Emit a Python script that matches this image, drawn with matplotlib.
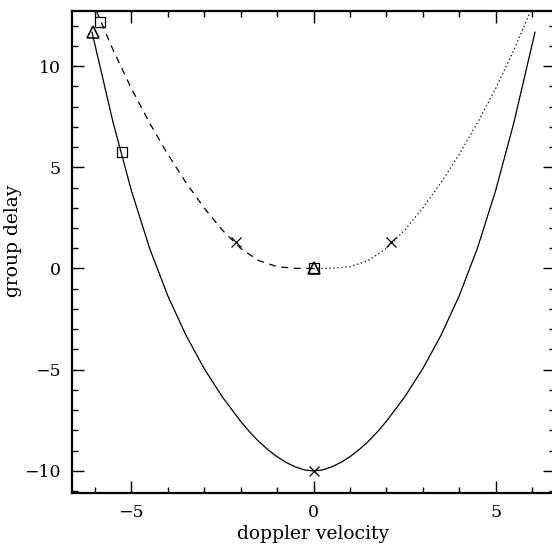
import matplotlib
matplotlib.use("Agg")
import matplotlib.pyplot as plt
from matplotlib.ticker import MultipleLocator

plt.rcParams['font.family'] = ['DejaVu Serif']

# solid curve (symmetric)
solid_x = [-6.08, -6.0, -5.5, -5.0, -4.5, -4.0, -3.5, -3.0, -2.5, -2.0, -1.75, -1.5, -1.25,
           -1.0, -0.75, -0.5, -0.25, 0.0,
           0.25, 0.5, 0.75, 1.0, 1.25, 1.5, 1.75, 2.0, 2.5, 3.0, 3.5, 4.0, 4.5, 5.0, 5.5, 6.0, 6.08]
solid_y = [11.67, 11.05, 7.2, 3.85, 1.0, -1.35, -3.3, -4.95, -6.35, -7.55, -8.08, -8.55, -8.95,
           -9.3, -9.58, -9.8, -9.95, -10.0,
           -9.95, -9.8, -9.58, -9.3, -8.95, -8.55, -8.08, -7.55, -6.35, -4.95, -3.3, -1.35, 1.0, 3.85, 7.2, 11.05, 11.67]

# dashed curve (left branch)
dash_x = [-5.96, -5.5, -5.0, -4.5, -4.0, -3.5, -3.0, -2.5, -2.0, -1.5, -1.0, -0.5, 0.0]
dash_y = [12.72, 10.79, 8.89, 7.19, 5.64, 4.24, 2.99, 1.89, 0.99, 0.39, 0.09, 0.01, 0.0]

# dotted curve (right branch)
dot_x = [0.0, 0.5, 1.0, 1.5, 2.0, 2.5, 3.0, 3.5, 4.0, 4.5, 5.0, 5.5, 5.96]
dot_y = [0.0, 0.01, 0.09, 0.39, 0.99, 1.89, 2.99, 4.24, 5.64, 7.19, 8.89, 10.79, 12.72]

# markers
tri_x = [-6.06, 0.0]
tri_y = [11.7, 0.0]
sq_x = [-5.27, -5.85, 0.0]
sq_y = [5.75, 12.17, 0.0]
cross_x = [0.0, -2.12, 2.14]
cross_y = [-10.0, 1.31, 1.31]

fig = plt.figure(figsize=(5.52, 5.44), dpi=100)
ax = fig.add_axes([72/552, 51/544, (555-72)/552, (493-11)/544])

ax.plot(solid_x, solid_y, color='black', lw=0.9, solid_joinstyle='round')
ax.plot(dash_x, dash_y, color='black', lw=0.9, linestyle=(0, (5.5, 4.5)))
ax.plot(dot_x, dot_y, color='black', lw=0.9, linestyle=(0, (1, 2.2)))

ax.plot(tri_x, tri_y, linestyle='none', marker='^', markersize=8, mfc='none', mec='black', mew=1.1)
ax.plot(sq_x, sq_y, linestyle='none', marker='s', markersize=7, mfc='none', mec='black', mew=0.9)
ax.plot(cross_x, cross_y, linestyle='none', marker='x', markersize=7, mec='black', mew=0.9)

ax.set_xlim(-6.63, 6.63)
ax.set_ylim(-11.09, 12.72)

ax.xaxis.set_major_locator(MultipleLocator(5))
ax.xaxis.set_minor_locator(MultipleLocator(1))
ax.yaxis.set_major_locator(MultipleLocator(5))
ax.yaxis.set_minor_locator(MultipleLocator(1))

ax.tick_params(which='both', direction='in', top=True, right=True, colors='black',
               labelsize=12.5, pad=8)
ax.tick_params(which='major', length=8.5, width=1.0)
ax.tick_params(which='minor', length=4.3, width=1.0)

for s in ax.spines.values():
    s.set_linewidth(1.6)

ax.set_xlabel('doppler velocity', fontsize=13.5, labelpad=3)
ax.set_ylabel('group delay', fontsize=13.5)
ax.yaxis.set_label_coords(-0.1035, 0.523)

fig.savefig('out.png', dpi=100)
